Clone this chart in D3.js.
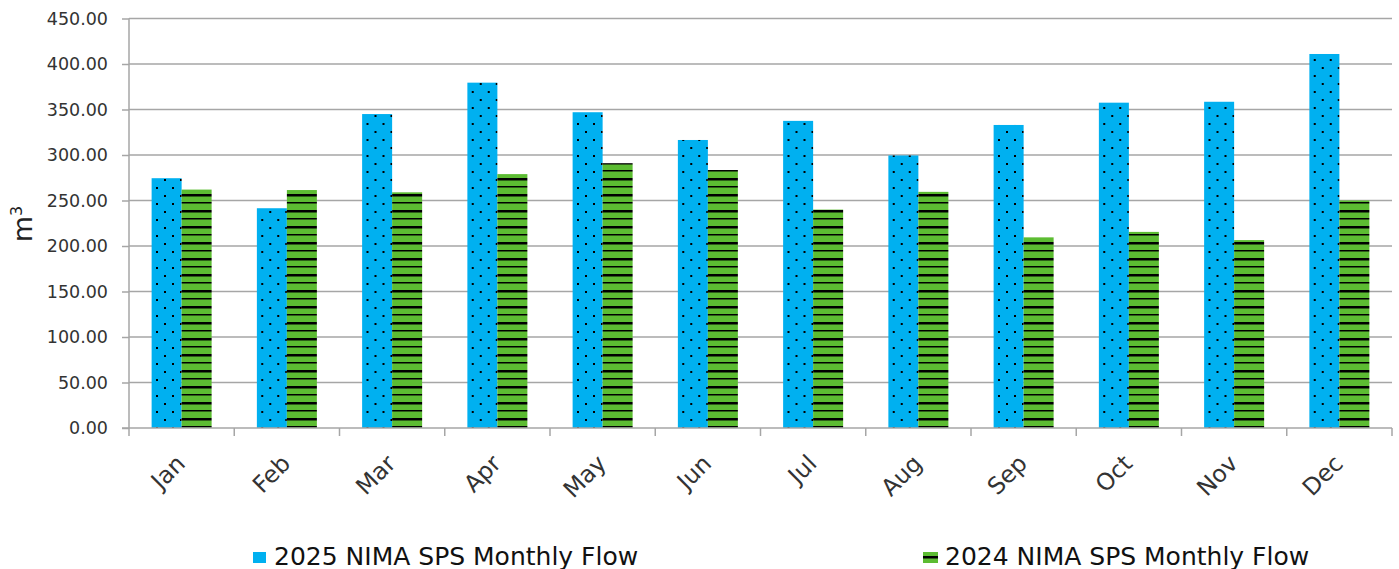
<!DOCTYPE html>
<html lang="en">
<head>
<meta charset="UTF-8">
<title>NIMA SPS Monthly Flow</title>
<script src="https://cdnjs.cloudflare.com/ajax/libs/d3/7.8.5/d3.min.js"></script>
<style>
  html, body { margin: 0; padding: 0; background: #fff; }
  svg { display: block; font-family: "DejaVu Sans", Verdana, sans-serif; }
</style>
</head>
<body>
<div id="chart"></div>
<script>
    var months = ['Jan', 'Feb', 'Mar', 'Apr', 'May', 'Jun', 'Jul', 'Aug', 'Sep', 'Oct', 'Nov', 'Dec'];
    var seriesNames = ['2025 NIMA SPS Monthly Flow', '2024 NIMA SPS Monthly Flow'];
    var flow2025 = [274.5, 241.5, 345, 379.5, 347, 316.5, 337.5, 299.5, 333, 357.5, 358.5, 411];
    var flow2024 = [262, 261.5, 259, 279, 291, 283.5, 240, 259.5, 209.5, 215.5, 206.5, 250];
    var yTicks = [0, 50, 100, 150, 200, 250, 300, 350, 400, 450];

    var w = 1399,
        h = 569,
        plotLeft = 129,
        plotRight = 1392,
        plotTop = 18.5,
        plotBottom = 428;

    var svg = d3.select('#chart')
                .append('svg')
                .attr('width', w)
                .attr('height', h);

    // patterns
    var defs = svg.append('defs');
    var dots = defs.append('pattern')
                .attr('id', 'dots')
                .attr('patternUnits', 'userSpaceOnUse')
                .attr('width', 16)
                .attr('height', 16);
    dots.append('rect').attr('width', 16).attr('height', 16).attr('fill', '#00b0f0');
    dots.append('rect').attr('x', 3).attr('y', 3).attr('width', 2).attr('height', 2).attr('fill', '#000');
    dots.append('rect').attr('x', 11).attr('y', 11).attr('width', 2).attr('height', 2).attr('fill', '#000');

    var stripes = defs.append('pattern')
                .attr('id', 'stripes')
                .attr('patternUnits', 'userSpaceOnUse')
                .attr('width', 16)
                .attr('height', 16);
    stripes.append('rect').attr('width', 16).attr('height', 16).attr('fill', '#5cbc32');
    stripes.append('rect').attr('y', 2).attr('width', 16).attr('height', 2.5).attr('fill', '#000');
    stripes.append('rect').attr('y', 10).attr('width', 16).attr('height', 1.5).attr('fill', '#000');

    var fills = ['url(#dots)', 'url(#stripes)'];

    // scales
    var x0 = d3.scaleBand().domain(months).range([plotLeft, plotRight]).padding(0);
    var x1 = d3.scaleBand().domain([0, 1]).range([0, x0.bandwidth()]).paddingInner(0).paddingOuter(0.754);
    var y = d3.scaleLinear().domain([0, 450]).range([plotBottom, plotTop]);

    // gridlines
    svg.append('g')
        .selectAll('line')
        .data(yTicks.slice(1))
        .enter()
        .append('line')
        .attr('x1', plotLeft)
        .attr('x2', plotRight)
        .attr('y1', (d) => y(d))
        .attr('y2', (d) => y(d))
        .attr('stroke', '#a6a6a6')
        .attr('stroke-width', 1.5);

    // bars
    var rows = months.map((m, i) => ({ month: m, values: [flow2025[i], flow2024[i]] }));
    svg.append('g')
        .selectAll('g')
        .data(rows)
        .enter()
        .append('g')
        .attr('transform', (d) => 'translate(' + x0(d.month) + ',0)')
        .selectAll('rect')
        .data((d) => d.values.map((v, k) => ({ k: k, v: v })))
        .enter()
        .append('rect')
        .attr('x', (d) => x1(d.k))
        .attr('y', (d) => y(d.v))
        .attr('width', x1.bandwidth())
        .attr('height', (d) => y(0) - y(d.v))
        .attr('fill', (d) => fills[d.k]);

    // y axis
    var yAxis = d3.axisLeft(y)
                .tickValues(yTicks)
                .tickFormat(d3.format('.2f'))
                .tickSize(7)
                .tickPadding(14);
    svg.append('g')
        .attr('transform', 'translate(' + plotLeft + ',0)')
        .call(yAxis)
        .call((g) => g.selectAll('.domain').attr('stroke', '#a6a6a6').attr('stroke-width', 1.5).attr('d', 'M0,' + plotTop + 'V' + plotBottom))
        .call((g) => g.selectAll('.tick line').attr('stroke', '#a6a6a6').attr('stroke-width', 1.5))
        .call((g) => g.selectAll('.tick text').attr('fill', '#333').style('font-size', '17.5px'))
        .attr('font-family', null);

    // x axis
    var xAxis = d3.axisBottom(x0).tickSize(0).tickFormat('');
    var xg = svg.append('g')
        .attr('transform', 'translate(0,' + plotBottom + ')')
        .call(xAxis);
    xg.select('.domain').attr('stroke', '#a6a6a6').attr('stroke-width', 1.5).attr('d', 'M' + (plotLeft - 7) + ',0H' + plotRight);
    xg.selectAll('.boundary')
        .data(months.map((m) => x0(m)).concat([plotRight]))
        .enter()
        .append('line')
        .attr('x1', (d) => d)
        .attr('x2', (d) => d)
        .attr('y1', 0)
        .attr('y2', 8)
        .attr('stroke', '#a6a6a6')
        .attr('stroke-width', 1.5);

    svg.append('g')
        .selectAll('text')
        .data(months)
        .enter()
        .append('text')
        .attr('transform', (d) => 'translate(' + (x0(d) + x0.bandwidth() / 2 + 5) + ',465) rotate(-45)')
        .attr('text-anchor', 'end')
        .attr('fill', '#333')
        .style('font-size', '23.5px')
        .text((d) => d);

    // y title
    var yTitle = svg.append('text')
        .attr('transform', 'translate(32,224) rotate(-90)')
        .attr('text-anchor', 'middle')
        .attr('fill', '#222')
        .style('font-size', '27px');
    yTitle.append('tspan').text('m');
    yTitle.append('tspan').attr('dy', -10).style('font-size', '16px').text('3');

    // legend
    var legendX = [253, 923];
    var legend = svg.append('g')
        .selectAll('g')
        .data(seriesNames)
        .enter()
        .append('g')
        .attr('transform', (d, i) => 'translate(' + legendX[i] + ',0)');
    legend.append('rect')
        .attr('x', 0)
        .attr('y', 552)
        .attr('width', (d, i) => (i === 0 ? 13 : 15))
        .attr('height', 11)
        .attr('fill', (d, i) => (i === 0 ? '#00b0f0' : '#5cbc32'));
    legend.filter((d, i) => i === 1)
        .append('rect')
        .attr('x', 0)
        .attr('y', 556)
        .attr('width', 15)
        .attr('height', 2.5)
        .attr('fill', '#000');
    legend.append('text')
        .attr('x', (d, i) => (i === 0 ? 21 : 22))
        .attr('y', 565)
        .attr('fill', '#111')
        .style('font-size', '25px')
        .text((d) => d);
</script>
</body>
</html>
